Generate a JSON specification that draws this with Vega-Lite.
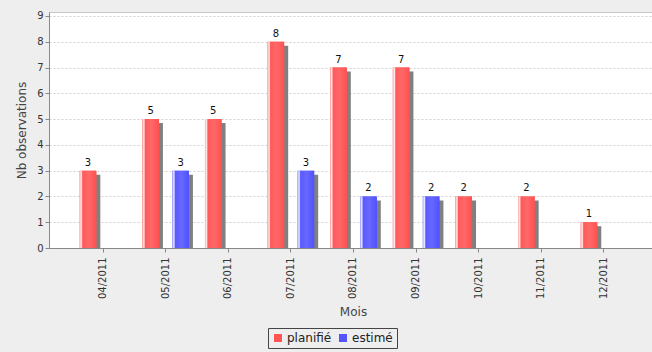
{
  "$schema": "https://vega.github.io/schema/vega-lite/v6.json",
  "width": 603,
  "height": 236,
  "autosize": {"type": "none"},
  "padding": {"left": 49, "top": 12, "right": 0, "bottom": 104},
  "background": "#eeeeee",
  "config": {
    "font": "DejaVu Sans",
    "view": {"fill": "#ffffff", "stroke": "#c8c8c8", "strokeWidth": 1},
    "axis": {
      "domainColor": "#888888",
      "tickColor": "#888888",
      "labelColor": "#333333",
      "titleColor": "#444444",
      "labelFont": "DejaVu Sans",
      "titleFont": "DejaVu Sans",
      "titleFontWeight": "normal",
      "labelFontSize": 10,
      "titleFontSize": 12,
      "tickSize": 4
    },
    "legend": {
      "labelFont": "DejaVu Sans",
      "labelFontSize": 12,
      "labelColor": "#222222"
    }
  },
  "data": {
    "values": [
      {"mois": "04/2011", "serie": "planifié", "n": 3},
      {"mois": "05/2011", "serie": "planifié", "n": 5},
      {"mois": "05/2011", "serie": "estimé", "n": 3},
      {"mois": "06/2011", "serie": "planifié", "n": 5},
      {"mois": "07/2011", "serie": "planifié", "n": 8},
      {"mois": "07/2011", "serie": "estimé", "n": 3},
      {"mois": "08/2011", "serie": "planifié", "n": 7},
      {"mois": "08/2011", "serie": "estimé", "n": 2},
      {"mois": "09/2011", "serie": "planifié", "n": 7},
      {"mois": "09/2011", "serie": "estimé", "n": 2},
      {"mois": "10/2011", "serie": "planifié", "n": 2},
      {"mois": "11/2011", "serie": "planifié", "n": 2},
      {"mois": "12/2011", "serie": "planifié", "n": 1}
    ]
  },
  "encoding": {
    "x": {
      "field": "mois",
      "type": "nominal",
      "title": "Mois",
      "scale": {"paddingInner": 0, "paddingOuter": 0.3146, "align": 0.576},
      "axis": {
        "labelAngle": 270,
        "labelAlign": "right",
        "labelBaseline": "middle",
        "labelPadding": 5,
        "titlePadding": 8,
        "titleX": 304,
        "grid": false
      }
    },
    "y": {
      "field": "n",
      "type": "quantitative",
      "title": "Nb observations",
      "scale": {"domain": [0, 9.155], "nice": false},
      "axis": {
        "values": [0, 1, 2, 3, 4, 5, 6, 7, 8, 9],
        "labelPadding": 2,
        "titlePadding": 8,
        "grid": true,
        "gridColor": "#d0d0d0",
        "gridDash": [2, 2],
        "gridWidth": 1
      }
    }
  },
  "layer": [
    {
      "mark": {"type": "bar", "color": "#808080", "yOffset": 4, "clip": true},
      "encoding": {
        "xOffset": {
          "field": "serie",
          "type": "nominal",
          "sort": ["planifié", "estimé"],
          "scale": {"paddingInner": 0.447, "paddingOuter": 0.267, "align": 0.75}
        }
      }
    },
    {
      "layer": [
        {
          "mark": {"type": "bar"},
          "encoding": {
            "color": {
              "field": "serie",
              "type": "nominal",
              "sort": ["planifié", "estimé"],
              "scale": {"domain": ["planifié", "estimé"], "range": ["#ff5555", "#5555ff"]},
              "legend": {
                "title": null,
                "orient": "none",
                "legendX": 219,
                "legendY": 316,
                "direction": "horizontal",
                "symbolType": "square",
                "symbolSize": 64,
                "symbolStrokeWidth": 0,
                "labelOffset": 3,
                "columnPadding": 5,
                "padding": 4,
                "strokeColor": "#444444"
              }
            }
          }
        },
        {
          "mark": {"type": "bar"},
          "encoding": {
            "color": {
              "condition": {
                "test": "datum.serie === 'planifié'",
                "value": {
                  "gradient": "linear", "x1": 0, "x2": 1, "y1": 0, "y2": 0,
                  "stops": [
                    {"offset": 0, "color": "#ffb0b0"},
                    {"offset": 0.1, "color": "#ffe8e8"},
                    {"offset": 0.18, "color": "#ff5a5a"},
                    {"offset": 0.55, "color": "#ff6868"},
                    {"offset": 1, "color": "#ff5050"}
                  ]
                }
              },
              "value": {
                "gradient": "linear", "x1": 0, "x2": 1, "y1": 0, "y2": 0,
                "stops": [
                  {"offset": 0, "color": "#b0b0ff"},
                  {"offset": 0.1, "color": "#e8e8ff"},
                  {"offset": 0.18, "color": "#5a5aff"},
                  {"offset": 0.55, "color": "#6868ff"},
                  {"offset": 1, "color": "#5050ff"}
                ]
              }
            }
          }
        },
        {
          "mark": {"type": "text", "fontSize": 10, "baseline": "alphabetic", "dy": -5, "color": "#111111"},
          "encoding": {"text": {"field": "n", "type": "quantitative"}}
        }
      ],
      "encoding": {
        "xOffset": {
          "field": "serie",
          "type": "nominal",
          "sort": ["planifié", "estimé"],
          "scale": {"paddingInner": 0.447, "paddingOuter": 0.267}
        }
      }
    }
  ],
  "resolve": {"scale": {"xOffset": "independent"}}
}
